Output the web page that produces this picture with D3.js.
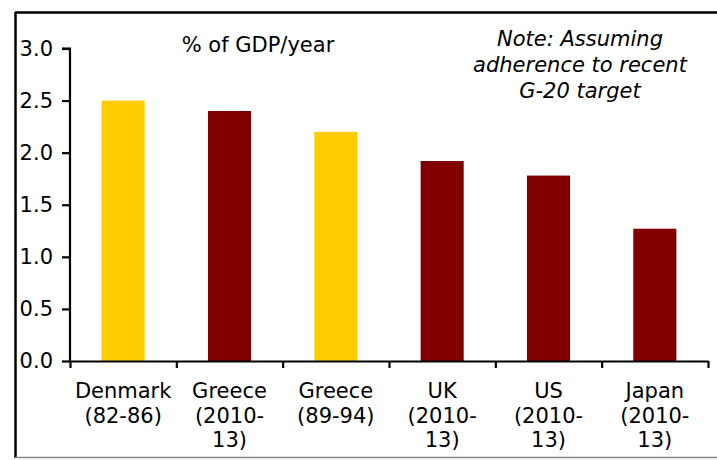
<!DOCTYPE html>
<html>
<head>
<meta charset="utf-8">
<script src="https://cdn.jsdelivr.net/npm/d3@7"></script>
<style>
  html, body { margin: 0; padding: 0; background: #fff; }
  svg { display: block; font-family: Verdana, "DejaVu Sans", sans-serif; }
</style>
</head>
<body>
<svg id="chart" width="717" height="460"></svg>
<script>
// Fiscal consolidation episodes, % of GDP per year
const categories = ["Denmark (82-86)", "Greece (2010-13)", "Greece (89-94)", "UK (2010-13)", "US (2010-13)", "Japan (2010-13)"];
const labelLines = [
  ["Denmark", "(82-86)"],
  ["Greece", "(2010-", "13)"],
  ["Greece", "(89-94)"],
  ["UK", "(2010-", "13)"],
  ["US", "(2010-", "13)"],
  ["Japan", "(2010-", "13)"]
];
const values = [2.5, 2.4, 2.2, 1.92, 1.78, 1.27];
const episodeType = ["historical", "planned", "historical", "planned", "planned", "planned"];
const yTicks = [0, 0.5, 1.0, 1.5, 2.0, 2.5, 3.0];
const unitLabel = "% of GDP/year";
const noteLines = ["Note: Assuming", "adherence to recent", "G-20 target"];

const FONT_SIZE = 21;

const svg = d3.select("#chart");

const plot = { left: 70, right: 708, top: 48.5, bottom: 361 };

const color = d3.scaleOrdinal()
  .domain(["historical", "planned"])
  .range(["#FFCC00", "#800000"]);

const x = d3.scaleBand()
  .domain(categories)
  .range([plot.left, plot.right])
  .paddingInner(0.595)
  .paddingOuter(0.2975);

// category boundaries for the x-axis tick marks
const xEdge = d3.scaleLinear()
  .domain([0, categories.length])
  .range([plot.left, plot.right]);

const y = d3.scaleLinear()
  .domain([0, 3])
  .range([plot.bottom, plot.top]);

// outer frame
svg.append("line").attr("x1", 15).attr("x2", 717).attr("y1", 12.5).attr("y2", 12.5)
  .attr("stroke", "#000").attr("stroke-width", 2.5);
svg.append("line").attr("x1", 15.5).attr("x2", 15.5).attr("y1", 12).attr("y2", 458)
  .attr("stroke", "#000").attr("stroke-width", 2.5);
svg.append("line").attr("x1", 15).attr("x2", 717).attr("y1", 457.5).attr("y2", 457.5)
  .attr("stroke", "#888").attr("stroke-width", 1.5);

// bars
svg.append("g")
  .selectAll("rect")
  .data(values)
  .join("rect")
  .attr("x", (d, i) => x(categories[i]))
  .attr("width", x.bandwidth())
  .attr("y", d => y(d))
  .attr("height", d => y(0) - y(d))
  .attr("fill", (d, i) => color(episodeType[i]));

// y axis
const yAxis = svg.append("g")
  .attr("transform", `translate(${plot.left},0)`)
  .call(d3.axisLeft(y).tickValues(yTicks).tickFormat(d3.format(".1f")).tickSize(8).tickPadding(9));
yAxis.select(".domain").attr("d", `M-8,${y(3)}H0V${y(0)}`);

// x axis with ticks between categories
const xAxis = svg.append("g")
  .attr("transform", `translate(0,${plot.bottom})`)
  .call(d3.axisBottom(xEdge).tickValues(d3.range(categories.length + 1)).tickFormat("").tickSize(7).tickSizeOuter(0));

svg.selectAll(".domain, .tick line")
  .attr("stroke", "#000")
  .attr("stroke-width", 2.2);
yAxis.selectAll("text")
  .attr("font-size", FONT_SIZE)
  .attr("font-family", "Verdana, 'DejaVu Sans', sans-serif")
  .attr("fill", "#000");

// category labels
const catLabels = svg.append("g")
  .selectAll("text")
  .data(labelLines)
  .join("text")
  .attr("text-anchor", "middle")
  .attr("font-size", FONT_SIZE)
  .attr("fill", "#000")
  .attr("x", (d, i) => x(categories[i]) + x.bandwidth() / 2);
catLabels.selectAll("tspan")
  .data(d => d)
  .join("tspan")
  .attr("x", function () { return d3.select(this.parentNode).attr("x"); })
  .attr("y", (d, j) => 398 + j * 24.5)
  .text(d => d);

// unit label
svg.append("text")
  .attr("x", 258)
  .attr("y", 52)
  .attr("text-anchor", "middle")
  .attr("font-size", FONT_SIZE)
  .attr("fill", "#000")
  .text(unitLabel);

// note
svg.append("g")
  .selectAll("text")
  .data(noteLines)
  .join("text")
  .attr("x", 580)
  .attr("y", (d, i) => 46 + i * 26)
  .attr("text-anchor", "middle")
  .attr("font-size", FONT_SIZE)
  .attr("font-style", "italic")
  .attr("fill", "#000")
  .text(d => d);
</script>
</body>
</html>
